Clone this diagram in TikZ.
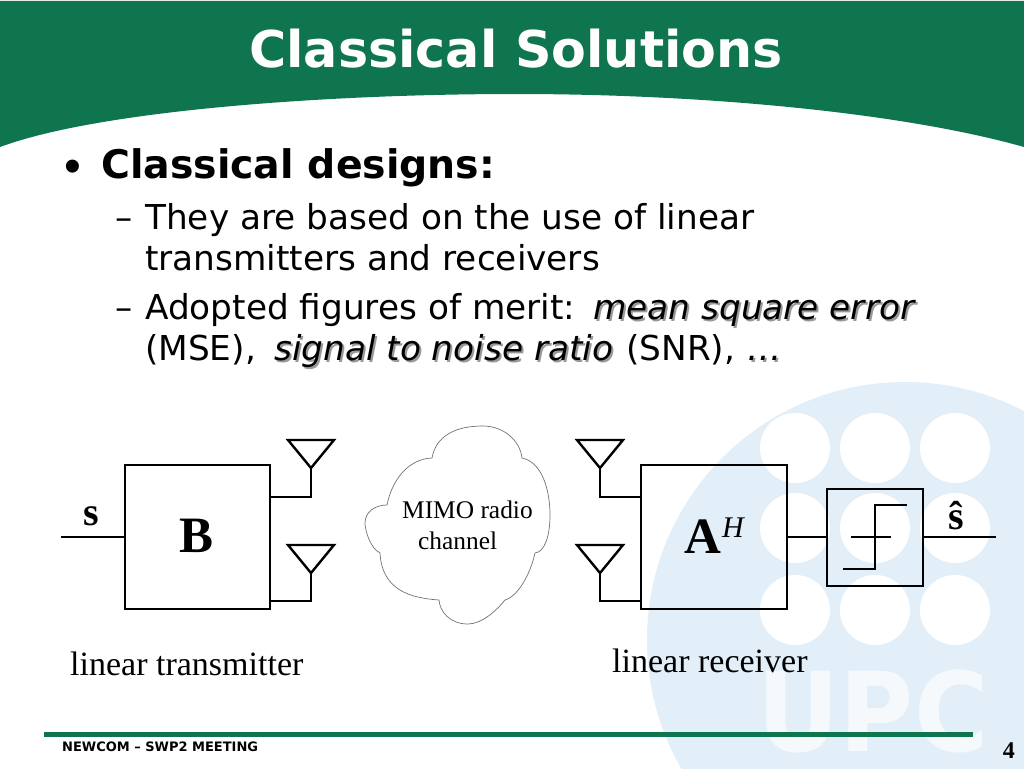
\documentclass[tikz,border=0pt]{standalone}
\usepackage{fontspec}
\setmainfont{Liberation Serif}
\newfontfamily\vf{DejaVu Sans}
\newfontfamily\af{Liberation Sans}
\definecolor{upcgreen}{HTML}{0E754E}
\definecolor{wm}{HTML}{E3EFF8}
\definecolor{wmb}{HTML}{F5F9FC}
\newcommand{\fs}[1]{\fontsize{#1}{#1}\selectfont}
\newcommand{\shadowed}[1]{\rlap{\kern2pt\raisebox{-2pt}{\textcolor{black!40}{#1}}}#1}
\tikzset{
  box/.style={draw=black,line width=2.4pt,fill=none,outer sep=0pt,inner sep=0pt,anchor=north west},
  wire/.style={draw=black,line width=2.4pt},
  ser/.style={inner sep=0pt,anchor=base west,font=\fs{34}},
  body/.style={inner sep=0pt,anchor=base west,font=\vf\fs{34.3}},
  emph1/.style={inner sep=0pt,anchor=base west,font=\vf\itshape\fs{34.3}}
}
\begin{document}
\begin{tikzpicture}[x=1pt,y=-1pt]
\useasboundingbox (0,0) rectangle (1024,768);
\fill[white] (0,0) rectangle (1024,768);
% watermark
\begin{scope}
\clip (0,0) rectangle (1024,768);
\fill[wm] (905,640) circle (258);
\foreach \cx in {795,875,955}
  \foreach \cy in {448,528,610}
    \fill[white] (\cx,\cy) circle (35);
\end{scope}
\node[inner sep=0pt,text=wmb,font=\vf\bfseries\fs{110},xscale=0.92] (upc) at (873,711) {UPC};
% header
\fill[upcgreen] (0,1) -- (1024,1) -- (1024,147) .. controls (900,112) and (700,94) .. (516,94) .. controls (330,94) and (100,110) .. (0,147) -- cycle;
\node[inner sep=0pt,text=white,font=\vf\bfseries\fs{50.7}] (title) at (516,49) {Classical Solutions};
% bullets
\node[body,font=\af\fs{48}] (bul) at (64,182) {•};
\node[body,font=\vf\bfseries\fs{39.4}] (h) at (101,178) {Classical designs:};
\node[body] (d1) at (115,229) {–};
\node[body] (l1) at (145,229) {They are based on the use of linear};
\node[body] (l2) at (145,270) {transmitters and receivers};
\node[body] (d2) at (115,319) {–};
\node[body] (l3) at (145,319) {Adopted figures of merit:};
\node[emph1] (e1) at (593,319) {\shadowed{mean square error}};
\node[body] (l4) at (145,360) {(MSE),};
\node[emph1] (e2) at (274,360) {\shadowed{signal to noise ratio}};
\node[body] (l5) at (626,360) {(SNR),};
\node[emph1] (e3) at (747,360) {\shadowed{…}};
% transmitter
\node[box,minimum width=145pt,minimum height=144pt] (B) at (125,465) {};
\node[inner sep=0pt,font=\bfseries\fs{51}] (Bt) at (197,536) {B};
\coordinate (sin) at (61,537);
\draw[wire] (sin) -- (B.west |- sin);
\node[inner sep=0pt,font=\bfseries\fs{40}] (s) at (91,516) {s};
% tx antennas
\foreach \n/\x/\y/\ye in {ta/311/440/497,tb/311/545/601}{
  \coordinate (\n1) at (\x-23,\y);
  \coordinate (\n2) at (\x+23,\y);
  \coordinate (\n3) at (\x,\y+28);
  \coordinate (\n4) at (\x,\ye);
  \draw[wire,line join=miter] (\n1) -- (\n2) -- (\n3) -- cycle;
  \draw[wire] (\n3) -- (\n4) -- (B.east |- \n4);
}
% cloud
\draw[draw=black!55,line width=0.7pt,fill=white]
  (432,458) .. controls (436,436) and (455,426) .. (483,426)
  .. controls (503,426) and (520,440) .. (522,458)
  .. controls (542,462) and (550,490) .. (550,515)
  .. controls (550,535) and (545,552) .. (535,553)
  .. controls (530,575) and (518,596) .. (505,600)
  .. controls (497,610) and (482,624) .. (468,624)
  .. controls (450,624) and (440,612) .. (439,600)
  .. controls (410,598) and (382,590) .. (380,553)
  .. controls (370,548) and (365,530) .. (365,523)
  .. controls (365,512) and (375,505) .. (387,505)
  .. controls (392,480) and (408,459) .. (432,458) -- cycle;
\node[inner sep=0pt,anchor=base west,font=\fs{25.4}] (m1) at (402,518) {MIMO radio};
\node[inner sep=0pt,anchor=base west,font=\fs{25.4}] (m2) at (418,549) {channel};
% receiver
\node[box,minimum width=146pt,minimum height=144pt] (A) at (641,465) {};
\node[inner sep=0pt,anchor=base west,font=\bfseries\fs{51}] (At) at (684,553) {A};
\node[inner sep=0pt,anchor=base west,font=\itshape\fs{30}] (Ah) at (722,537) {H};
\foreach \n/\x/\y/\ye in {ra/600/440/497,rb/600/545/601}{
  \coordinate (\n1) at (\x-23,\y);
  \coordinate (\n2) at (\x+23,\y);
  \coordinate (\n3) at (\x,\y+28);
  \coordinate (\n4) at (\x,\ye);
  \draw[wire,line join=miter] (\n1) -- (\n2) -- (\n3) -- cycle;
  \draw[wire] (\n3) -- (\n4) -- (A.west |- \n4);
}
% decision
\node[box,minimum width=96pt,minimum height=97pt] (D) at (827,489) {};
\draw[wire] (A.east |- 0,537) -- (D.west |- 0,537);
\coordinate (sout) at (996,537);
\draw[wire] (D.east |- sout) -- (sout);
\coordinate (h1) at (851,537);
\coordinate (h2) at (891,537);
\draw[wire] (h1) -- (h2);
\coordinate (q1) at (843,569);
\coordinate (q2) at (875,569);
\coordinate (q3) at (875,505);
\coordinate (q4) at (907,505);
\draw[wire,line join=miter] (q1) -- (q2) -- (q3) -- (q4);
\node[inner sep=0pt,font=\bfseries\fs{40}] (sh) at (956,516) {ŝ};
% captions
\node[ser] (c1) at (70,675) {linear transmitter};
\node[ser] (c2) at (612,672) {linear receiver};
% footer
\fill[upcgreen] (44,732) rectangle (973,737);
\node[inner sep=0pt,anchor=base west,font=\vf\bfseries\fs{13}] (f) at (62,751) {NEWCOM – SWP2 MEETING};
\node[inner sep=0pt,anchor=base east,font=\bfseries\fs{24}] (pg) at (1015,758) {4};
\end{tikzpicture}
\end{document}
